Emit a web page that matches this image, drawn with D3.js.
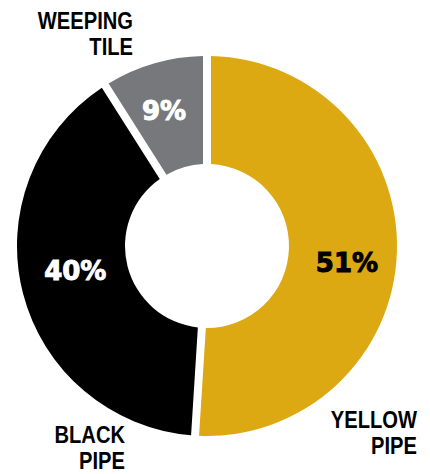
<!DOCTYPE html>
<html lang="en">
<head>
  <meta charset="utf-8">
  <title>Pipe share</title>
  <script src="https://cdnjs.cloudflare.com/ajax/libs/d3/7.8.5/d3.min.js"></script>
  <style>
    html, body { margin: 0; padding: 0; background: #fff; }
    .pct { font-family: "DejaVu Sans", sans-serif; font-weight: bold; font-size: 26px; stroke-width: 1px; }
    .lbl { font-family: "Liberation Sans", sans-serif; font-weight: bold; font-size: 24px; fill: #000; }
  </style>
</head>
<body>
<svg id="chart" width="430" height="474"></svg>
<script>
  // slices in drawing order, clockwise from 12 o'clock
  var names = ["YELLOW PIPE", "BLACK PIPE", "WEEPING TILE"];
  var shares = [51, 40, 9];
  var fills = ["#dca913", "#000000", "#77787b"];
  var pctColors = ["#000", "#fff", "#fff"];

  var cx = 207, cy = 246, outerR = 190, innerR = 82;

  var svg = d3.select("#chart");
  var g = svg.append("g").attr("transform", "translate(" + cx + "," + cy + ")");

  var pie = d3.pie().sort(null).value(function(d) { return d; })
  var arcs = pie(shares);

  var arc = d3.arc()
    .innerRadius(innerR)
    .outerRadius(outerR)
    .padAngle(0.04)
    .padRadius(200);

  var labelArc = d3.arc().innerRadius(innerR).outerRadius(outerR);
  // small nudges so the % labels sit where the original has them
  var nudge = [[4, 12], [0, -9], [-5, -5]];

  g.selectAll("path.slice").data(arcs).enter()
    .append("path")
    .attr("class", "slice")
    .attr("d", arc)
    .attr("fill", function(d, i) { return fills[i]; });

  g.selectAll("text.pct").data(arcs).enter()
    .append("text")
    .attr("class", "pct")
    .attr("text-anchor", "middle")
    .attr("dy", "0.36em")
    .attr("transform", function(d, i) {
      var c = labelArc.centroid(d);
      return "translate(" + (c[0] + nudge[i][0]) + "," + (c[1] + nudge[i][1]) + ")";
    })
    .attr("fill", function(d, i) { return pctColors[i]; })
    .attr("stroke", function(d, i) { return pctColors[i]; })
    .text(function(d) { return d.data + "%"; });

  // category names placed outside the ring, right aligned, two lines each
  var namePos = [[417, 428], [125, 443], [133, 29]];
  names.forEach(function(n, i) {
    var t = svg.append("text")
      .attr("class", "lbl")
      .attr("text-anchor", "end")
      .attr("transform", "translate(" + namePos[i][0] + "," + namePos[i][1] + ") scale(0.84,1)");
    n.split(" ").forEach(function(w, j) {
      t.append("tspan")
        .attr("x", 0)
        .attr("y", j * 26)
        .text(w);
    });
  });
</script>
</body>
</html>
